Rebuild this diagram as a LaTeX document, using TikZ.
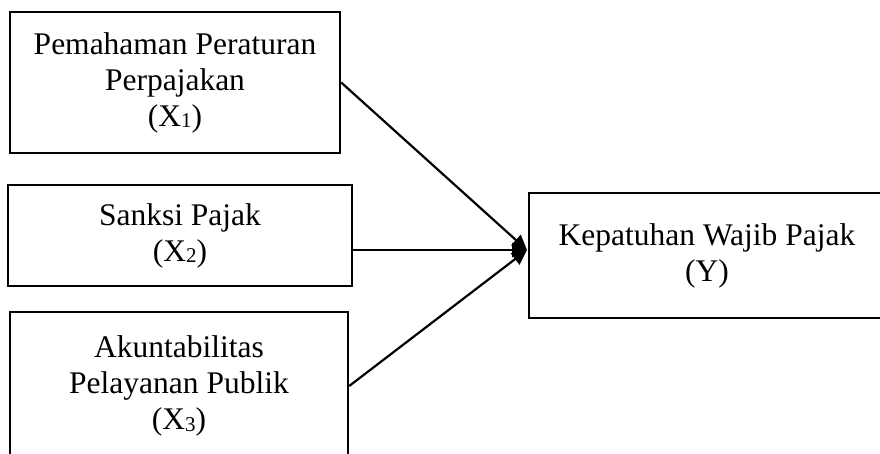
\documentclass[tikz,border=0pt]{standalone}
\usepackage{fontspec}
\setmainfont{Liberation Serif}
\usetikzlibrary{arrows.meta}
\newcommand{\subidx}[1]{\raisebox{-1.5pt}{\fontsize{21}{21}\selectfont #1}}

\begin{document}
\begin{tikzpicture}[x=1pt,y=-1pt,>={Triangle[length=15pt,width=14pt]},
    kotak/.style={draw,line width=2.4pt,align=center,inner sep=0pt,
      font=\fontsize{31.5}{36}\selectfont},
    panah/.style={line width=2.2pt,->}]
  \useasboundingbox (0,0) rectangle (880,453);
  \clip (0,0) rectangle (880,453);
  % variabel bebas
  \node[kotak,minimum width=330pt,minimum height=141pt] (paham) at (175,82.5)
        {Pemahaman Peraturan\\Perpajakan\\(X\subidx{1})};
  \node[kotak,minimum width=344pt,minimum height=101pt] (sanksi) at (180,235.5)
        {Sanksi Pajak\\(X\subidx{2})};
  \node[kotak,minimum width=338pt,minimum height=148pt] (akun) at (179,386)
        {Akuntabilitas\\Pelayanan Publik\\(X\subidx{3})};
  % variabel terikat
  \node[kotak,minimum width=356pt,minimum height=125pt] (patuh) at (707,255.5)
        {Kepatuhan Wajib Pajak\\(Y)};
  \coordinate (temu) at (527,250);
  \draw[panah] (paham.east) -- (temu);
  \draw[panah] (sanksi.east |- temu) -- (temu);
  \draw[panah] (akun.east) -- (temu);
\end{tikzpicture}
\end{document}
